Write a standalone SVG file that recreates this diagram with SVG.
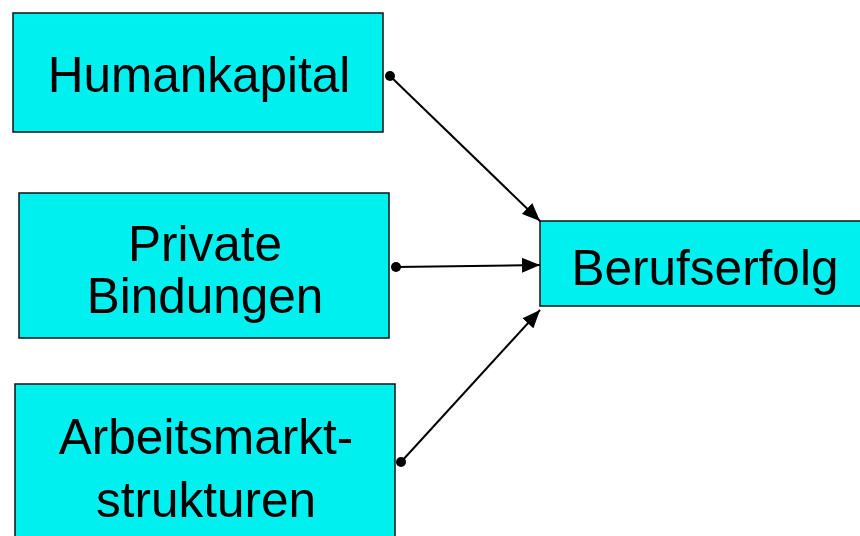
<svg xmlns="http://www.w3.org/2000/svg" width="860" height="536" viewBox="0 0 860 536">
<style>
.box{fill:#00F0F0;stroke:#111;stroke-width:1.5}
.lbl{font-family:"Liberation Sans",Arial,sans-serif;font-size:49.5px;fill:#000;text-anchor:middle}
.con{stroke:#000;stroke-width:2;fill:none;marker-start:url(#dot);marker-end:url(#arr)}
</style>
<defs>
<marker id="dot" viewBox="-6 -6 12 12" refX="0" refY="0" markerWidth="12" markerHeight="12" markerUnits="userSpaceOnUse"><circle r="5" fill="#000"/></marker>
<marker id="arr" viewBox="0 0 18 15" refX="18" refY="7.5" markerWidth="18" markerHeight="15" markerUnits="userSpaceOnUse" orient="auto"><path d="M0,0 L18,7.5 L0,15 Z" fill="#000"/></marker>
</defs>
<rect width="860" height="536" fill="#fff"/>
<g id="humankapital"><rect class="box" x="13" y="13" width="370" height="119"/><text class="lbl" x="199" y="92">Humankapital</text></g>
<g id="private"><rect class="box" x="19" y="193" width="370" height="145"/><text class="lbl" x="205" y="261">Private</text><text class="lbl" x="205" y="313">Bindungen</text></g>
<g id="arbeitsmarkt"><rect class="box" x="15" y="384" width="380" height="170"/><text class="lbl" x="206" y="454">Arbeitsmarkt-</text><text class="lbl" x="206" y="517">strukturen</text></g>
<g id="berufserfolg"><rect class="box" x="540" y="221" width="331" height="85"/><text class="lbl" x="705" y="285">Berufserfolg</text></g>
<g id="connectors">
<line class="con" x1="390" y1="76" x2="540" y2="221"/>
<line class="con" x1="396" y1="267" x2="540" y2="265"/>
<line class="con" x1="401" y1="462" x2="540" y2="310"/>
</g>
</svg>
